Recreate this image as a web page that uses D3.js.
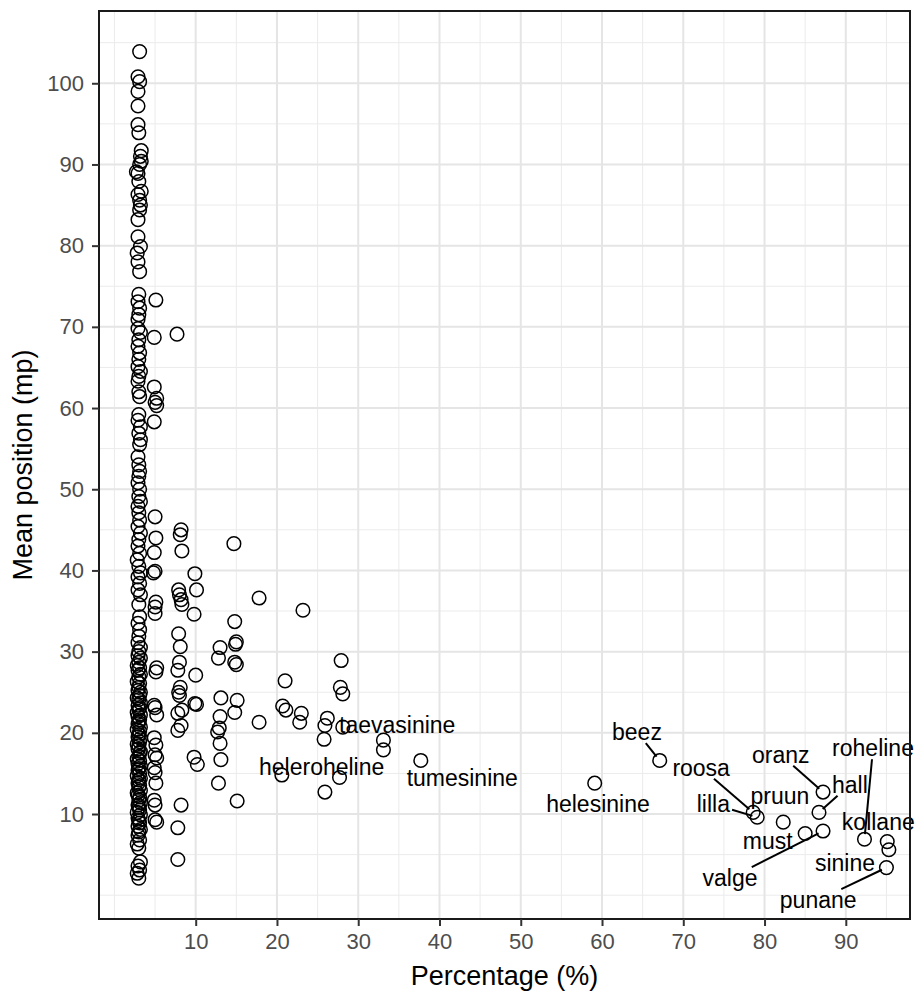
<!DOCTYPE html>
<html>
<head>
<meta charset="utf-8">
<script src="https://cdnjs.cloudflare.com/ajax/libs/d3/7.8.5/d3.min.js"></script>
<style>
  body { margin: 0; background: #fff; }
  svg text { font-family: "Liberation Sans", Arial, sans-serif; }
</style>
</head>
<body>
<div id="chart"></div>
<script>
// percentage of respondents naming the term (x) and its mean list position (y)
var pct = [
  // column near 3 %
  3.1,2.9,3.1,2.9,2.9,2.9,3.0,3.3,3.2,3.3,3.1,2.7,2.9,3.0,3.3,2.9,3.1,3.2,3.1,2.9,
  2.9,3.2,2.8,2.9,3.1,3.0,2.9,3.1,3.0,2.9,
  2.9,3.2,3.0,2.9,3.1,3.0,2.9,3.2,3.0,2.9,3.0,3.1,3.0,2.9,3.2,3.0,3.2,3.1,2.9,3.0,
  3.1,3.0,2.9,3.1,3.0,3.2,2.9,3.0,3.1,2.9,3.2,3.0,2.9,3.1,2.8,3.0,3.2,2.9,3.1,2.9,
  3.2,3.0,3.1,2.9,3.1,3.0,2.9,3.2,
  3.0,2.9,3.2,3.0,2.8,3.1,2.9,3.2,3.0,2.8,3.1,3.0,2.9,3.2,3.1,2.8,3.0,3.2,2.9,3.1,
  3.0,2.8,3.2,2.9,3.1,3.0,2.9,3.2,2.8,3.1,3.0,2.9,3.2,3.1,2.8,3.0,2.9,3.2,3.1,3.0,
  2.8,3.1,2.9,3.2,3.0,2.9,3.1,2.8,3.2,3.0,2.9,3.1,3.0,3.2,2.8,2.9,3.1,3.0,3.2,2.9,
  3.0,3.1,2.8,3.2,2.9,3.0,3.1,2.9,3.2,3.0,
  // column near 5 %
  5.1,4.9,4.9,5.2,5.0,5.2,4.9,5.0,5.1,4.9,5.0,4.8,5.1,5.0,5.0,5.2,5.1,4.9,5.0,5.2,
  4.9,5.1,5.0,5.2,4.9,5.0,5.1,4.9,5.0,5.2,5.0,
  // column near 8 %
  7.7,8.2,8.1,8.3,7.9,8.0,8.2,8.3,7.9,8.1,8.0,7.8,8.1,7.9,8.0,8.3,7.8,8.2,7.8,8.2,7.8,
  // column near 10 %
  9.9,10.1,9.8,10.0,9.9,10.1,9.8,10.2,
  // column near 13 %
  13.0,12.8,13.1,13.0,12.9,12.7,13.0,13.1,12.8,
  // column near 15 %
  14.7,14.8,15.0,14.9,14.8,15.0,15.1,14.8,15.1,
  // scattered
  17.8,23.2,21.0,20.7,21.1,23.0,22.8,17.8,27.9,27.8,28.1,26.2,25.9,28.1,25.8,33.1,
  33.1,37.7,20.6,27.7,25.9,59.1,67.1,78.6,79.1,82.3,85.0,87.2,86.7,87.2,92.3,95.1,
  95.3,95.0
];

var pos = [
  103.9,100.8,100.2,99.0,97.2,94.9,93.9,91.7,91.0,90.4,90.0,89.1,88.9,87.9,86.7,86.3,85.6,85.0,84.4,83.2,
  81.1,79.9,79.1,78.0,76.8,74.0,73.1,72.3,71.5,70.9,
  69.8,69.3,68.4,67.6,66.8,66.0,65.1,64.5,63.9,63.3,62.0,61.4,59.2,58.5,57.7,56.9,56.1,55.5,54.0,53.0,
  52.2,51.6,50.8,50.0,49.1,48.5,47.9,47.1,46.2,45.4,44.6,43.8,43.0,42.1,41.3,40.5,39.7,39.2,38.4,37.6,
  37.0,35.8,34.3,33.5,32.7,31.9,31.1,30.5,
  30.0,29.5,29.2,28.7,28.3,28.0,27.7,27.2,26.9,26.3,26.1,25.6,25.2,25.0,24.6,24.3,24.1,23.7,23.4,23.1,
  22.9,22.5,22.2,22.0,21.6,21.3,21.1,20.7,20.4,20.2,19.8,19.5,19.3,18.9,18.6,18.4,18.0,17.7,17.5,17.1,
  16.8,16.6,16.2,15.9,15.6,15.4,15.0,14.7,14.4,14.2,13.8,13.5,13.3,12.9,12.6,12.3,12.1,11.7,11.4,11.1,
  10.8,10.5,10.2,9.9,9.5,9.2,8.9,8.5,8.1,7.8,
  // 5 %
  73.3,68.7,62.6,61.2,60.7,60.3,58.3,46.6,44.0,42.2,39.9,39.7,36.1,35.5,34.7,28.0,27.5,23.4,23.1,22.2,
  19.4,18.5,17.3,16.9,15.7,15.1,13.8,11.7,11.1,9.0,9.3,
  // 8 %
  69.1,45.0,44.4,42.4,37.6,37.0,36.4,35.8,32.2,30.6,28.7,27.7,25.6,25.0,24.6,22.8,22.4,20.9,20.3,11.1,8.3,
  // 10 %
  39.6,37.6,34.6,27.1,23.6,23.5,17.0,16.1,
  // 13 %
  30.5,29.2,24.3,22.0,20.6,20.1,18.7,16.7,13.8,
  // 15 %
  43.3,33.7,31.2,30.9,28.7,28.4,24.0,22.5,11.6,
  // scattered
  36.6,35.1,26.4,23.3,22.8,22.4,21.3,21.3,28.9,25.6,24.8,21.8,20.9,20.7,19.2,19.1,
  17.9,16.6,14.8,14.5,12.7,13.8,16.6,10.2,9.6,9.0,7.6,7.9,10.2,12.7,6.9,6.6,
  5.6,3.4
];

// low tail of the 3 % column and the lone 8 % point at the bottom
var pctTail = [2.9, 3.1, 2.8, 3.0, 3.2, 2.9, 3.1, 2.8, 3.0, 7.8];
var posTail = [7.4, 6.8, 6.3, 5.8, 4.1, 3.6, 3.1, 2.7, 2.1, 4.4];

// repelled text labels: term, its point, and where the label sits (data units)
var labelNames = ["taevasinine", "heleroheline", "tumesinine", "helesinine", "beez", "roosa", "lilla",
  "pruun", "oranz", "hall", "roheline", "kollane", "must", "valge", "sinine", "punane"];
var labelPct = [28.1, 27.7, 37.7, 59.1, 67.1, 78.6, 79.1, 82.3, 87.2, 86.7, 92.3, 95.1, 85.0, 87.2, 95.3, 95.0];
var labelPos = [20.7, 14.5, 16.6, 13.8, 16.6, 10.2, 9.6, 9.0, 12.7, 10.2, 6.9, 6.6, 7.6, 7.9, 5.6, 3.4];
var labelAtPct = [34.8, 25.5, 42.8, 59.5, 64.3, 72.2, 73.7, 81.9, 82.0, 90.5, 93.35, 94.0, 80.4, 75.75, 89.9, 86.6];
var labelAtPos = [21.0, 15.8, 14.4, 11.2, 20.1, 15.7, 11.2, 12.2, 17.3, 13.6, 18.1, 9.0, 6.7, 2.1, 4.0, -0.6];

var xBreaks = [10, 20, 30, 40, 50, 60, 70, 80, 90];
var yBreaks = [10, 20, 30, 40, 50, 60, 70, 80, 90, 100];
var xMinor = [0, 5, 15, 25, 35, 45, 55, 65, 75, 85, 95];
var yMinor = [0, 5, 15, 25, 35, 45, 55, 65, 75, 85, 95, 105];

var allPos = pos.concat(posTail);
var points = pct.concat(pctTail).map(function(d, i) {
    return {x: d, y: allPos[i]};
});

var W = 918, H = 992;
var panel = {left: 99, right: 910, top: 11, bottom: 919};

var x = d3.scaleLinear().domain([-1.9, 97.9]).range([panel.left, panel.right]);
var y = d3.scaleLinear().domain([-2.93, 108.9]).range([panel.bottom, panel.top]);

var svg = d3.select("#chart").append("svg")
    .attr("width", W)
    .attr("height", H);

// grid
var grid = svg.append("g");
grid.selectAll(".xminor").data(xMinor).enter().append("line")
    .attr("x1", function(d) { return x(d); }).attr("x2", function(d) { return x(d); })
    .attr("y1", panel.top).attr("y2", panel.bottom)
    .attr("stroke", "#ebebeb").attr("stroke-width", 1);
grid.selectAll(".yminor").data(yMinor).enter().append("line")
    .attr("y1", function(d) { return y(d); }).attr("y2", function(d) { return y(d); })
    .attr("x1", panel.left).attr("x2", panel.right)
    .attr("stroke", "#ebebeb").attr("stroke-width", 1);
grid.selectAll(".xmajor").data(xBreaks).enter().append("line")
    .attr("x1", function(d) { return x(d); }).attr("x2", function(d) { return x(d); })
    .attr("y1", panel.top).attr("y2", panel.bottom)
    .attr("stroke", "#e5e5e5").attr("stroke-width", 2);
grid.selectAll(".ymajor").data(yBreaks).enter().append("line")
    .attr("y1", function(d) { return y(d); }).attr("y2", function(d) { return y(d); })
    .attr("x1", panel.left).attr("x2", panel.right)
    .attr("stroke", "#e5e5e5").attr("stroke-width", 2);

// points
svg.append("g").selectAll("circle")
    .data(points)
    .enter().append("circle")
    .attr("cx", function(d) { return x(d.x); })
    .attr("cy", function(d) { return y(d.y); })
    .attr("r", 6.8)
    .attr("fill", "none")
    .attr("stroke", "#000")
    .attr("stroke-width", 1.5);

// labels + segments (segment runs from the label box edge toward the point)
var lab = svg.append("g");
labelNames.forEach(function(name, i) {
    var lx = x(labelAtPct[i]), ly = y(labelAtPos[i]);
    var px = x(labelPct[i]), py = y(labelPos[i]);
    var t = lab.append("text")
        .attr("x", lx).attr("y", ly)
        .attr("text-anchor", "middle")
        .attr("dy", "0.35em")
        .attr("font-size", 23)
        .attr("fill", "#000")
        .text(name);
    var bb = t.node().getBBox();
    var hw = bb.width / 2 + 2, hh = 11;
    var dx = px - lx, dy = py - ly;
    var tx = dx === 0 ? Infinity : hw / Math.abs(dx);
    var ty = dy === 0 ? Infinity : hh / Math.abs(dy);
    var tt = Math.min(tx, ty);
    if (tt >= 1) return;
    var sx = lx + dx * tt, sy = ly + dy * tt;
    var ex = px - sx, ey = py - sy, dist = Math.sqrt(ex * ex + ey * ey);
    if (dist - 5 > 15) {
        var k = (dist - 5) / dist;
        lab.append("line")
            .attr("x1", sx).attr("y1", sy)
            .attr("x2", sx + ex * k).attr("y2", sy + ey * k)
            .attr("stroke", "#000").attr("stroke-width", 2);
    }
});

// panel border
svg.append("rect")
    .attr("x", panel.left).attr("y", panel.top)
    .attr("width", panel.right - panel.left).attr("height", panel.bottom - panel.top)
    .attr("fill", "none").attr("stroke", "#1a1a1a").attr("stroke-width", 2);

// axes
var xAxis = svg.append("g")
    .attr("transform", "translate(0," + panel.bottom + ")")
    .call(d3.axisBottom(x).tickValues(xBreaks).tickSize(7).tickPadding(7));
var yAxis = svg.append("g")
    .attr("transform", "translate(" + panel.left + ",0)")
    .call(d3.axisLeft(y).tickValues(yBreaks).tickSize(7).tickPadding(8));
[xAxis, yAxis].forEach(function(a) {
    a.select(".domain").remove();
    a.selectAll(".tick line").attr("stroke", "#333").attr("stroke-width", 2);
    a.selectAll(".tick text").attr("fill", "#4d4d4d").attr("font-size", 22)
        .attr("font-family", "Liberation Sans, Arial, sans-serif");
});

svg.append("text")
    .attr("x", (panel.left + panel.right) / 2).attr("y", 985)
    .attr("text-anchor", "middle").attr("font-size", 27)
    .text("Percentage (%)");
svg.append("text")
    .attr("transform", "translate(32," + (panel.top + panel.bottom) / 2 + ") rotate(-90)")
    .attr("text-anchor", "middle").attr("font-size", 27)
    .text("Mean position (mp)");
</script>
</body>
</html>
